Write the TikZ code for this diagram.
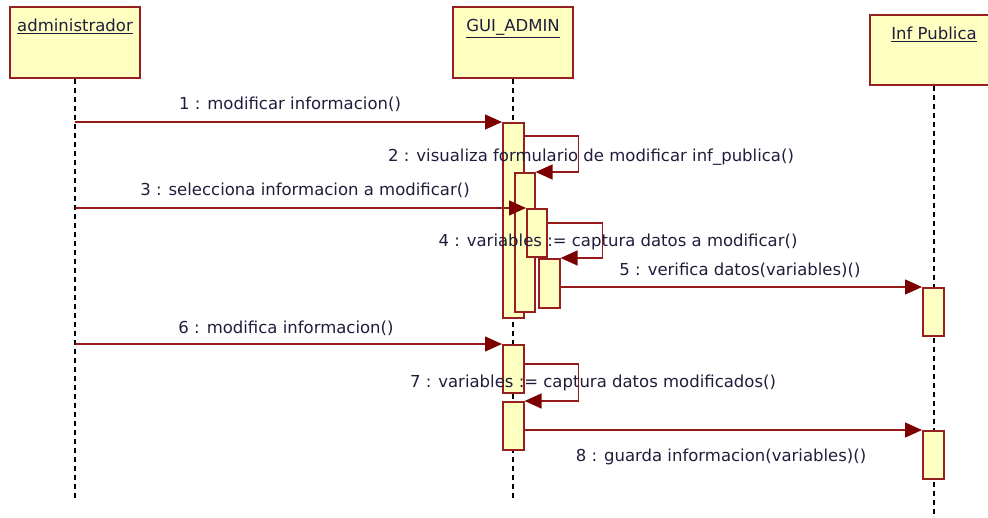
\documentclass[tikz,border=0pt]{standalone}
\usepackage{fontspec}
\setmainfont{DejaVu Sans}
\usetikzlibrary{arrows.meta}
\definecolor{umlfill}{RGB}{255,255,194}
\definecolor{umlline}{RGB}{150,32,32}
\definecolor{msgred}{RGB}{150,25,25}
\definecolor{tipred}{RGB}{125,0,0}
\definecolor{txt}{RGB}{30,30,60}

\begin{document}
\begin{tikzpicture}[x=1pt, y=-1pt, font=\fontsize{16.5}{19}\selectfont,
    head/.style={draw=umlline, fill=umlfill, line width=1.8pt, inner sep=0pt,
      label={[anchor=north, yshift=-13pt, inner sep=0pt, text=txt]north:\underline{#1}}},
    act/.style={draw=umlline, fill=umlfill, line width=1.6pt, inner sep=0pt,
      anchor=north west, minimum width=21pt},
    life/.style={dash pattern=on 5pt off 4pt, line width=1.4pt},
    msg/.style={draw=msgred, line width=1.4pt,
      -{Triangle[length=17pt, width=15pt, color=tipred]}},
    msglbl/.style={text=txt, inner sep=0pt}]
  \useasboundingbox (0,0) rectangle (988,518);

  % lifeline heads
  \node[head=administrador, minimum width=130pt, minimum height=71pt] (admin) at (75,42.5) {};
  \node[head=GUI\_ADMIN, minimum width=120pt, minimum height=71pt] (gui) at (513,42.5) {};
  \node[head=Inf\ Publica, minimum width=128pt, minimum height=70pt] (inf) at (934,50) {};

  % lifelines
  \draw[life] (admin.south) -- (75,500);
  \draw[life] (gui.south) -- (513,500);
  \draw[life] (inf.south) -- (934,518);

  % activations
  \node[act, minimum height=195pt] (act1) at (502,122) {};
  \node[act, minimum height=139pt, minimum width=20pt] (act2) at (514,172) {};
  \node[act, minimum height=48pt, minimum width=20pt] (act3) at (526,208) {};
  \node[act, minimum height=49pt] (act4) at (538,258) {};
  \node[act, minimum height=48pt] (inf1) at (922,287) {};
  \node[act, minimum height=48pt] (act5) at (502,344) {};
  \node[act, minimum height=48pt] (act6) at (502,401) {};
  \node[act, minimum height=48pt] (inf2) at (922,430) {};

  % messages
  \draw[msg] (admin.south |- act1.north west) -- (act1.north west);
  \draw[msg] ([yshift=-14pt]act1.north east) -- ++(54,0) |- (act2.north east);
  \draw[msg] (admin.south |- act3.north west) -- (act3.north west);
  \draw[msg] ([yshift=-15pt]act3.north east) -- ++(55,0) |- (act4.north east);
  \draw[msg] (act4.east |- inf1.north west) -- (inf1.north west);
  \draw[msg] (admin.south |- act5.north west) -- (act5.north west);
  \draw[msg] ([yshift=-20pt]act5.north east) -- ++(54,0) |- (act6.north east);
  \draw[msg] (act6.east |- inf2.north west) -- (inf2.north west);

  % message labels
  \node[msglbl] (l1) at (290,104) {1 : modificar informacion()};
  \node[msglbl] (l2) at (591,157) {2 : visualiza formulario de modificar inf\_publica()};
  \node[msglbl] (l3) at (305,190) {3 : selecciona informacion a modificar()};
  \node[msglbl] (l4) at (618,242) {4 : variables := captura datos a modificar()};
  \node[msglbl] (l5) at (740,270) {5 : verifica datos(variables)()};
  \node[msglbl] (l6) at (286,328) {6 : modifica informacion()};
  \node[msglbl] (l7) at (593,383) {7 : variables := captura datos modificados()};
  \node[msglbl] (l8) at (721,457) {8 : guarda informacion(variables)()};
\end{tikzpicture}
\end{document}
